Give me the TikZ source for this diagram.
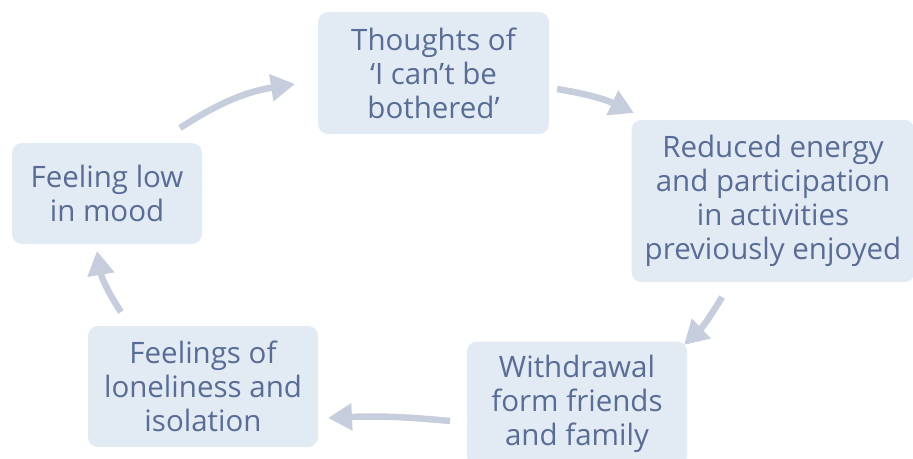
\documentclass[tikz,border=0pt]{standalone}
\usepackage{fontspec}
\setmainfont{Open Sans}
\usetikzlibrary{arrows.meta}
\definecolor{boxfill}{HTML}{E2EAF4}
\definecolor{boxtext}{HTML}{586C97}
\definecolor{arrowc}{HTML}{C6CEDD}
\tikzset{
  stagebox/.style={fill=boxfill, rounded corners=10pt, text=boxtext, align=center,
    font=\fontsize{29.5}{34}\selectfont, inner sep=0pt},
  cyclearrow/.style={draw=arrowc, line width=6.5pt,
    -{Triangle[length=24pt,width=26pt]}},
}
\begin{document}
\begin{tikzpicture}[x=1pt,y=-1pt]
\useasboundingbox (0,0) rectangle (913,458);
\node[stagebox, minimum width=231pt, minimum height=122pt] (thoughts) at (433.5,73) {Thoughts of\\‘I can’t be\\bothered’};
\node[stagebox, minimum width=283pt, minimum height=162pt] (energy) at (773,201) {Reduced energy\\and participation\\in activities\\previously enjoyed};
\node[stagebox, minimum width=220pt, minimum height=125pt] (withdrawal) at (577,404) {Withdrawal\\form friends\\and family};
\node[stagebox, minimum width=230pt, minimum height=121pt] (lonely) at (203,386.5) {Feelings of\\loneliness and\\isolation};
\node[stagebox, minimum width=190pt, minimum height=101pt] (low) at (107,193.5) {Feeling low\\in mood};
\coordinate (a1s) at (180,128);
\coordinate (a1e) at (295,84);
\coordinate (a2s) at (557,89);
\coordinate (a2e) at (634,113);
\coordinate (a3s) at (722,297);
\coordinate (a3e) at (684,345);
\coordinate (a4s) at (450,421);
\coordinate (a4e) at (328,418);
\coordinate (a5s) at (121,312);
\coordinate (a5e) at (97,251);
\draw[cyclearrow] (a1s) to[bend left=12] (a1e);
\draw[cyclearrow] (a2s) to[bend left=8] (a2e);
\draw[cyclearrow] (a3s) to[bend left=8] (a3e);
\draw[cyclearrow] (a4s) to[bend right=4] (a4e);
\draw[cyclearrow] (a5s) to[bend left=12] (a5e);
\end{tikzpicture}
\end{document}
